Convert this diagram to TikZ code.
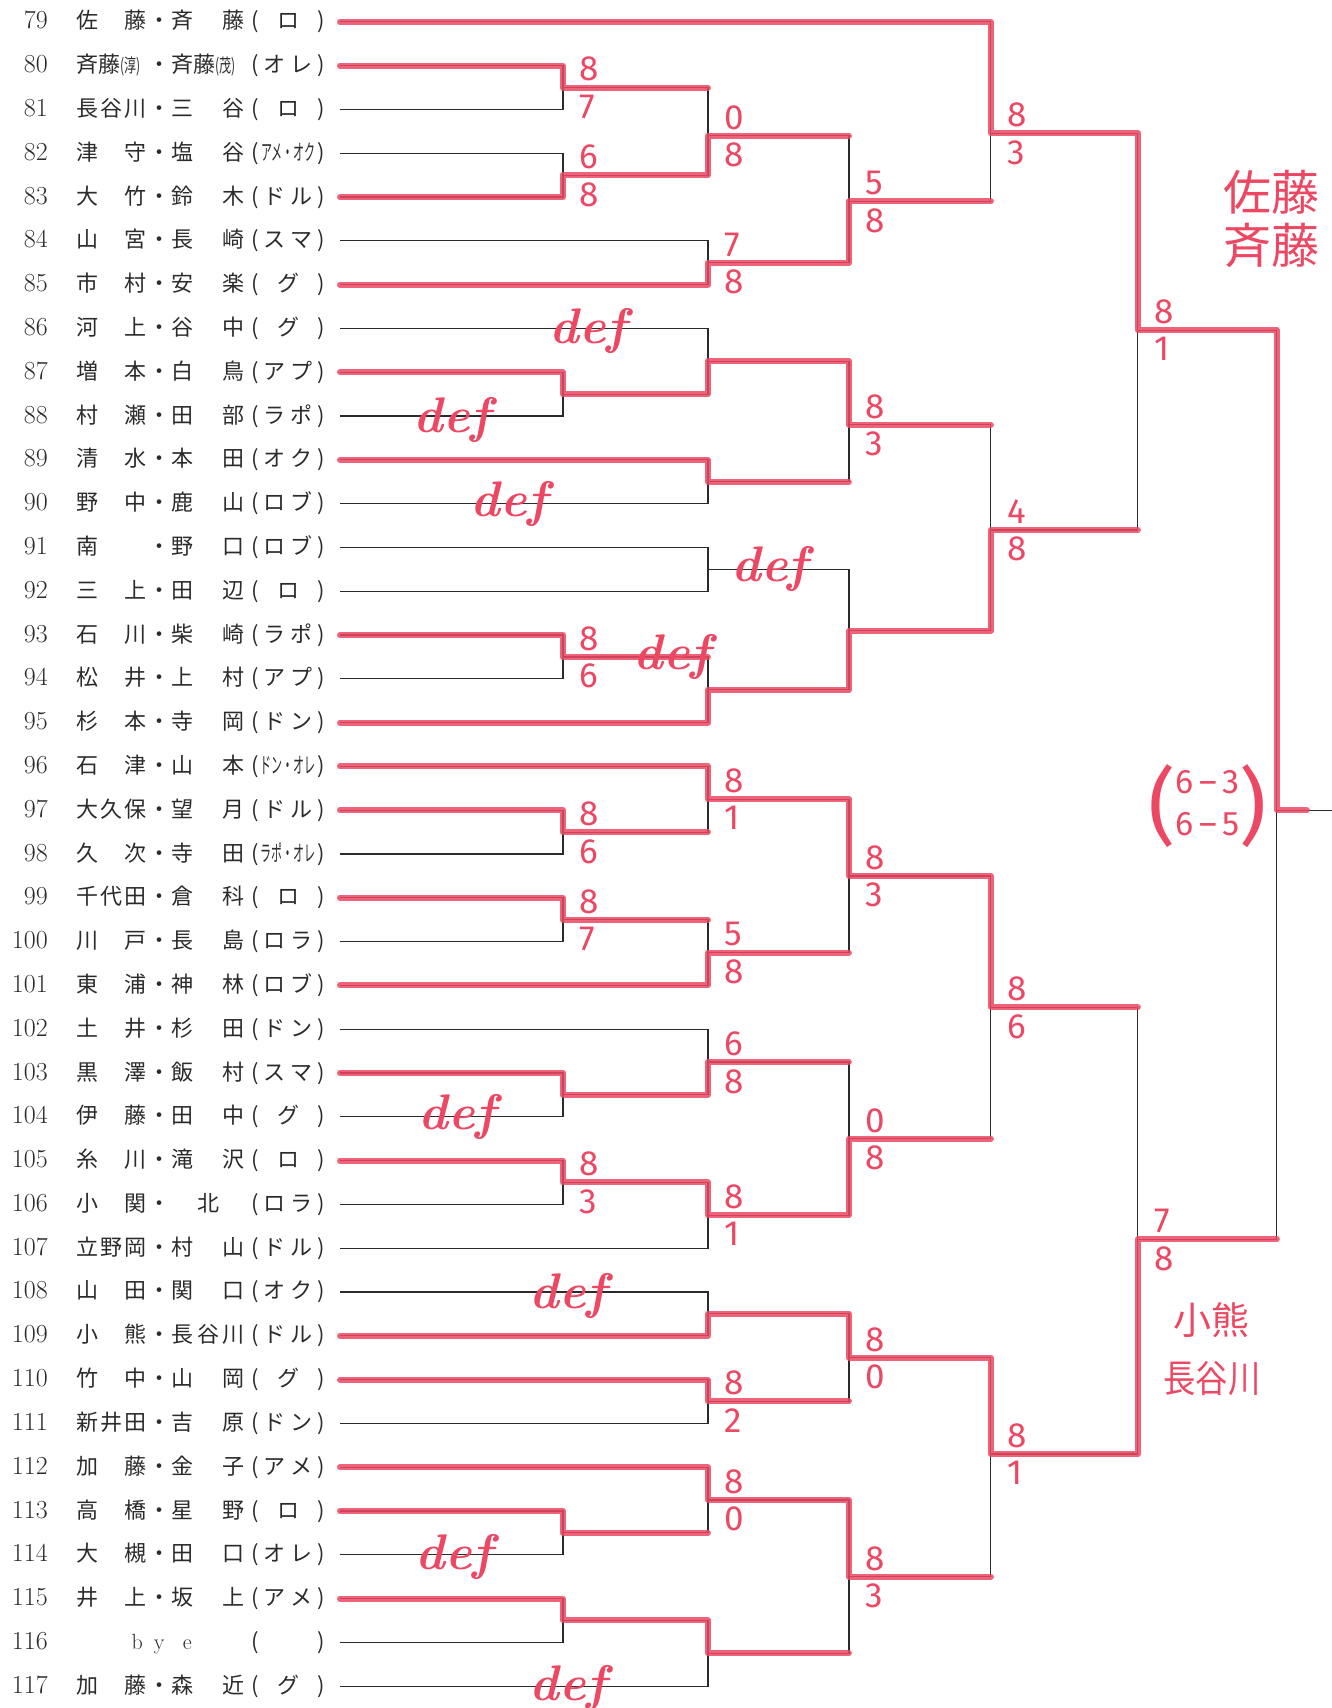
\documentclass[tikz,border=0pt]{standalone}
\usepackage{fontspec}
\usepackage{graphicx}
\usetikzlibrary{positioning}
\newfontfamily\jp{Noto Sans CJK JP}
\newfontfamily\handfont{Fira Sans}
\definecolor{penred}{HTML}{EC4863}
\definecolor{printink}{HTML}{2B2B2B}
% one printed row: number, name, dot, name, (club)
\newcommand{\entrytext}[5]{%
  \makebox[38pt][r]{\fontsize{26}{26}\selectfont #1}\hspace{29pt}%
  {\jp\makebox[70pt][s]{#2}\makebox[25pt]{#3}\makebox[73pt][s]{#4}%
   \hspace{7pt}\makebox[73pt][s]{(\hfill #5\hfill)}}}
\newcommand{\squeeze}[1]{\scalebox{0.5}[1]{#1}}
\newcommand{\smallparen}[1]{\scalebox{0.55}[0.85]{(#1)}}
% game score written at a joint, upper side first
\newcommand{\scoremark}[3]{%
  \node[score, above right=6pt and 16pt of #1] (#1u) {#2};
  \node[score, below right=7pt and 16pt of #1] (#1d) {#3};}

\begin{document}
\begin{tikzpicture}[
  x=1pt,
  y=-43.8pt,
  rule/.style={printink, line width=1.2pt},
  win/.style={penred, line width=6pt, opacity=0.85, line cap=round, line join=round},
  entry/.style={anchor=east, inner xsep=15pt, inner ysep=0pt, printink,
                font=\fontsize{22}{26}\selectfont},
  score/.style={penred, inner sep=0pt, font=\handfont\fontsize{35}{35}\selectfont},
  defmark/.style={penred, inner sep=0pt, font=\fontsize{50}{50}\selectfont\bfseries\itshape},
  hand/.style={penred, align=center, inner sep=0pt}
]
  \useasboundingbox (0,-0.5) rectangle (1332,38.5);

  % ---- printed entries ----
  \foreach \n/\a/\b/\c [evaluate=\n as \r using int(\n-79)] in {
    79/{佐\hfill 藤}/{斉\hfill 藤}/{ロ},
    80/{斉藤\smallparen{淳}}/{斉藤\smallparen{茂}}/{オ\hfill レ},
    81/{長\hfill 谷\hfill 川}/{三\hfill 谷}/{ロ},
    82/{津\hfill 守}/{塩\hfill 谷}/{\squeeze{アメ・オク}},
    83/{大\hfill 竹}/{鈴\hfill 木}/{ド\hfill ル},
    84/{山\hfill 宮}/{長\hfill 崎}/{ス\hfill マ},
    85/{市\hfill 村}/{安\hfill 楽}/{グ},
    86/{河\hfill 上}/{谷\hfill 中}/{グ},
    87/{増\hfill 本}/{白\hfill 鳥}/{ア\hfill プ},
    88/{村\hfill 瀬}/{田\hfill 部}/{ラ\hfill ポ},
    89/{清\hfill 水}/{本\hfill 田}/{オ\hfill ク},
    90/{野\hfill 中}/{鹿\hfill 山}/{ロ\hfill ブ},
    91/{南\hfill}/{野\hfill 口}/{ロ\hfill ブ},
    92/{三\hfill 上}/{田\hfill 辺}/{ロ},
    93/{石\hfill 川}/{柴\hfill 崎}/{ラ\hfill ポ},
    94/{松\hfill 井}/{上\hfill 村}/{ア\hfill プ},
    95/{杉\hfill 本}/{寺\hfill 岡}/{ド\hfill ン},
    96/{石\hfill 津}/{山\hfill 本}/{\squeeze{ドン・オレ}},
    97/{大\hfill 久\hfill 保}/{望\hfill 月}/{ド\hfill ル},
    98/{久\hfill 次}/{寺\hfill 田}/{\squeeze{ラポ・オレ}},
    99/{千\hfill 代\hfill 田}/{倉\hfill 科}/{ロ},
    100/{川\hfill 戸}/{長\hfill 島}/{ロ\hfill ラ},
    101/{東\hfill 浦}/{神\hfill 林}/{ロ\hfill ブ},
    102/{土\hfill 井}/{杉\hfill 田}/{ド\hfill ン},
    103/{黒\hfill 澤}/{飯\hfill 村}/{ス\hfill マ},
    104/{伊\hfill 藤}/{田\hfill 中}/{グ},
    105/{糸\hfill 川}/{滝\hfill 沢}/{ロ},
    106/{小\hfill 関}/{\hfill 北\hfill}/{ロ\hfill ラ},
    107/{立\hfill 野\hfill 岡}/{村\hfill 山}/{ド\hfill ル},
    108/{山\hfill 田}/{関\hfill 口}/{オ\hfill ク},
    109/{小\hfill 熊}/{長\hfill 谷\hfill 川}/{ド\hfill ル},
    110/{竹\hfill 中}/{山\hfill 岡}/{グ},
    111/{新\hfill 井\hfill 田}/{吉\hfill 原}/{ド\hfill ン},
    112/{加\hfill 藤}/{金\hfill 子}/{ア\hfill メ},
    113/{高\hfill 橋}/{星\hfill 野}/{ロ},
    114/{大\hfill 槻}/{田\hfill 口}/{オ\hfill レ},
    115/{井\hfill 上}/{坂\hfill 上}/{ア\hfill メ},
    117/{加\hfill 藤}/{森\hfill 近}/{グ}}
    \node[entry] (p\n) at (340,\r) {\entrytext{\n}{\a}{・}{\b}{\c}};
  \node[entry] (p116) at (340,37)
    {\entrytext{116}{\hfill\rmfamily b\hspace{4pt}}{\rmfamily y}{\hspace{11pt}\rmfamily e\hfill}{}};

  % ---- bracket joints, one column per round ----
  \foreach \j/\yy in {a1/1.5, a2/3.5, a3/8.5, a4/14.5, a5/18.5, a6/20.5,
                      a7/24.5, a8/26.5, a9/34.5, a10/36.5}
    \coordinate (\j) at (563,\yy);
  \foreach \j/\yy in {b1/2.6, b2/5.5, b3/7.75, b4/10.5, b5/12.5, b6/15.25,
                      b7/17.75, b8/21.25, b9/23.75, b10/27.25, b11/29.5,
                      b12/31.5, b13/33.75, b14/37.25}
    \coordinate (\j) at (708,\yy);
  \foreach \j/\yy in {c1/4.1, c2/9.2, c3/13.9, c4/19.5, c5/25.5, c6/30.5, c7/35.5}
    \coordinate (\j) at (849,\yy);
  \foreach \j/\yy in {d1/2.54, d2/11.6, d3/22.5, d4/32.7}
    \coordinate (\j) at (991,\yy);
  \coordinate (e1) at (1138,7.04);
  \coordinate (e2) at (1138,27.8);
  \coordinate (fin) at (1277,18);
  \coordinate (fstub) at (1307,18);
  \coordinate (champ) at (1332,18);

  % ---- printed bracket ----
  \foreach \n/\j in {79/d1, 80/a1, 81/a1, 82/a2, 83/a2, 84/b2, 85/b2, 86/b3,
                     87/a3, 88/a3, 89/b4, 90/b4, 91/b5, 92/b5, 93/a4, 94/a4,
                     95/b6, 96/b7, 97/a5, 98/a5, 99/a6, 100/a6, 101/b8, 102/b9,
                     103/a7, 104/a7, 105/a8, 106/a8, 107/b10, 108/b11, 109/b11,
                     110/b12, 111/b12, 112/b13, 113/a9, 114/a9, 115/a10,
                     116/a10, 117/b14}
    \draw[rule] (p\n.east) -| (\j);
  \foreach \j/\k in {a1/b1, a2/b1, a3/b3, a4/b6, a5/b7, a6/b8, a7/b9, a8/b10,
                     a9/b13, a10/b14, b1/c1, b2/c1, b3/c2, b4/c2, b5/c3, b6/c3,
                     b7/c4, b8/c4, b9/c5, b10/c5, b11/c6, b12/c6, b13/c7, b14/c7,
                     c1/d1, c2/d2, c3/d2, c4/d3, c5/d3, c6/d4, c7/d4,
                     d1/e1, d2/e1, d3/e2, d4/e2, e1/fin, e2/fin}
    \draw[rule] (\j) -| (\k);
  \draw[rule] (fin) -- (champ);

  % ---- winners, traced in marker ----
  \draw[win] (p79.east) -| (d1) -| (e1) -| (fin) -- (fstub);
  \draw[win] (p80.east) -| (a1) -- (a1 -| b1);
  \draw[win] (p83.east) -| (a2) -| (b1) -- (b1 -| c1);
  \draw[win] (p85.east) -| (b2) -| (c1) -- (c1 -| d1);
  \draw[win] (p87.east) -| (a3) -| (b3) -| (c2) -- (c2 -| d2);
  \draw[win] (p89.east) -| (b4) -- (b4 -| c2);
  \draw[win] (p93.east) -| (a4) -- (a4 -| b6);
  \draw[win] (p95.east) -| (b6) -| (c3) -| (d2) -- (d2 -| e1);
  \draw[win] (p96.east) -| (b7) -| (c4) -| (d3) -- (d3 -| e2);
  \draw[win] (p97.east) -| (a5) -- (a5 -| b7);
  \draw[win] (p99.east) -| (a6) -- (a6 -| b8);
  \draw[win] (p101.east) -| (b8) -- (b8 -| c4);
  \draw[win] (p103.east) -| (a7) -| (b9) -- (b9 -| c5);
  \draw[win] (p105.east) -| (a8) -| (b10) -| (c5) -- (c5 -| d3);
  \draw[win] (p109.east) -| (b11) -| (c6) -| (d4) -| (e2) -- (e2 -| fin);
  \draw[win] (p110.east) -| (b12) -- (b12 -| c6);
  \draw[win] (p112.east) -| (b13) -| (c7) -- (c7 -| d4);
  \draw[win] (p113.east) -| (a9) -- (a9 -| b13);
  \draw[win] (p115.east) -| (a10) -| (b14) -- (b14 -| c7);

  % ---- scores ----
  \scoremark{a1}{8}{7}  \scoremark{a2}{6}{8}  \scoremark{a4}{8}{6}
  \scoremark{a5}{8}{6}  \scoremark{a6}{8}{7}  \scoremark{a8}{8}{3}
  \scoremark{b1}{0}{8}  \scoremark{b2}{7}{8}  \scoremark{b7}{8}{1}
  \scoremark{b8}{5}{8}  \scoremark{b9}{6}{8}  \scoremark{b10}{8}{1}
  \scoremark{b12}{8}{2} \scoremark{b13}{8}{0}
  \scoremark{c1}{5}{8}  \scoremark{c2}{8}{3}  \scoremark{c4}{8}{3}
  \scoremark{c5}{0}{8}  \scoremark{c6}{8}{0}  \scoremark{c7}{8}{3}
  \scoremark{d1}{8}{3}  \scoremark{d2}{4}{8}  \scoremark{d3}{8}{6}
  \scoremark{d4}{8}{1}
  \scoremark{e1}{8}{1}  \scoremark{e2}{7}{8}

  % ---- defaults ----
  \node[defmark] (x86)  at (588,7.05)  {def};
  \node[defmark] (x88)  at (452,9.1)   {def};
  \node[defmark] (x90)  at (509,11.0)  {def};
  \node[defmark] (xb5)  at (770,12.5)  {def};
  \node[defmark] (xa4)  at (672,14.5)  {def};
  \node[defmark] (x104) at (457,25.0)  {def};
  \node[defmark] (x108) at (568,29.1)  {def};
  \node[defmark] (x114) at (454,35.05) {def};
  \node[defmark] (x117) at (568,38.05) {def};

  % ---- finalists and final score ----
  \node[hand, font=\jp\fontsize{48}{54}\selectfont] (w1) at (1272,4.5) {佐藤\\斉藤};
  \node[hand, font=\jp\fontsize{38}{58}\selectfont] (w2) at (1212,30.3)
    {小熊\\\scalebox{0.85}[1]{長谷川}};
  \node[hand, font=\handfont\fontsize{34}{42}\selectfont] (fs) at (1208,17.9)
    {$\vcenter{\hbox{\fontsize{84}{84}\selectfont(}}%
      \vcenter{\hbox{\begin{tabular}{@{}c@{}}6\,–\,3\\6\,–\,5\end{tabular}}}%
      \vcenter{\hbox{\fontsize{84}{84}\selectfont)}}$};
\end{tikzpicture}
\end{document}
